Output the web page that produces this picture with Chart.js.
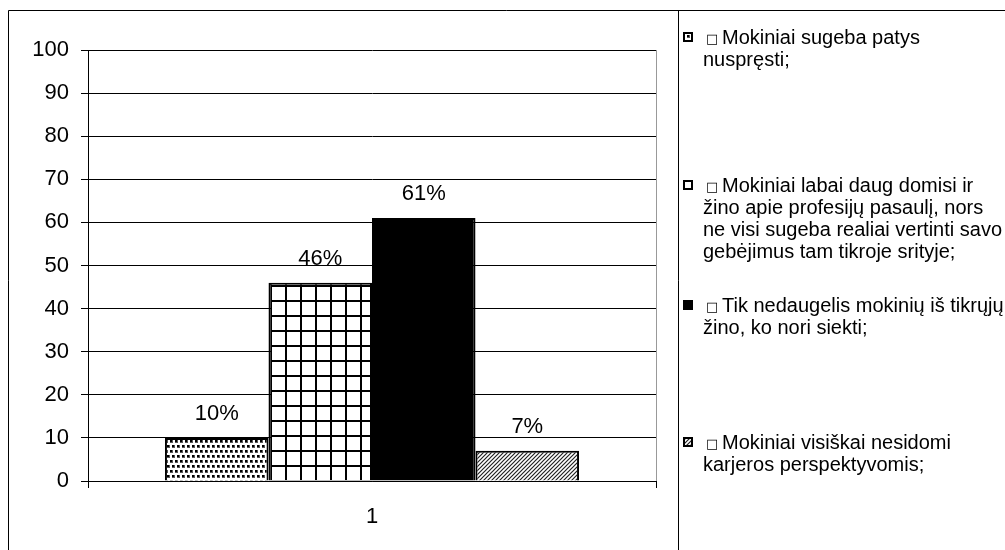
<!DOCTYPE html>
<html>
<head>
<meta charset="utf-8">
<script src="https://cdn.jsdelivr.net/npm/chart.js@4.4.1/dist/chart.umd.min.js"></script>
<style>
html,body{margin:0;padding:0;background:#fff;}
#wrap{position:relative;width:1005px;height:550px;}
</style>
</head>
<body>
<div id="wrap"><canvas id="c" width="1005" height="550"></canvas></div>
<script>
const categories = ['1'];
const legendBullet = '\u25A1';
const seriesLabels = [
  ['Mokiniai sugeba patys', 'nuspręsti;'],
  ['Mokiniai labai daug domisi ir', 'žino apie profesijų pasaulį, nors', 'ne visi sugeba realiai vertinti savo', 'gebėjimus tam tikroje srityje;'],
  ['Tik nedaugelis mokinių iš tikrųjų', 'žino, ko nori siekti;'],
  ['Mokiniai visiškai nesidomi', 'karjeros perspektyvomis;']
];
const seriesValues = [[10], [46], [61], [7]];
const yTicks = [0, 10, 20, 30, 40, 50, 60, 70, 80, 90, 100];

const FONT = '"Liberation Sans", Arial, sans-serif';

function makePattern(kind) {
  const t = document.createElement('canvas');
  const g = t.getContext('2d');
  if (kind === 'dots') {
    t.width = 5; t.height = 10;
    g.fillStyle = '#fff'; g.fillRect(0, 0, 5, 10);
    g.fillStyle = '#555';
    g.fillRect(0, 0, 3, 3);
    g.fillRect(2, 5, 3, 3);
    g.fillStyle = '#000';
    g.fillRect(0, 0, 2, 2);
    g.fillRect(2, 5, 2, 2);
  } else if (kind === 'grid') {
    t.width = 15; t.height = 15;
    g.fillStyle = '#fff'; g.fillRect(0, 0, 15, 15);
    g.fillStyle = '#000';
    g.fillRect(0, 0, 2, 15);
    g.fillRect(0, 0, 15, 2);
  } else if (kind === 'hatch') {
    t.width = 4; t.height = 4;
    g.fillStyle = '#fff'; g.fillRect(0, 0, 4, 4);
    g.strokeStyle = '#222'; g.lineWidth = 1.2;
    g.beginPath();
    g.moveTo(-1, 5); g.lineTo(5, -1);
    g.moveTo(-1, 1); g.lineTo(1, -1);
    g.moveTo(3, 5); g.lineTo(5, 3);
    g.stroke();
  }
  return g.createPattern(t, 'repeat');
}

const ctx = document.getElementById('c').getContext('2d');
const fills = [makePattern('dots'), makePattern('grid'), '#000', makePattern('hatch')];

const datasets = seriesValues.map((vals, i) => ({
  label: seriesLabels[i].join(' '),
  data: vals,
  backgroundColor: fills[i],
  borderColor: '#000',
  borderWidth: 2,
  categoryPercentage: 0.729,
  barPercentage: 1.0
}));

const framePlugin = {
  id: 'frame',
  beforeDraw(chart) {
    const c = chart.ctx;
    c.save();
    c.fillStyle = '#fff';
    c.fillRect(0, 0, chart.width, chart.height);
    c.restore();
  },
  afterDraw(chart) {
    const c = chart.ctx;
    const a = chart.chartArea;
    c.save();
    c.strokeStyle = '#999';
    c.lineWidth = 1;
    c.beginPath();
    c.moveTo(Math.round(a.right) + 0.5, a.top);
    c.lineTo(Math.round(a.right) + 0.5, a.bottom);
    c.stroke();
    c.strokeStyle = '#000';
    c.beginPath();
    c.moveTo(8.5, chart.height);
    c.lineTo(8.5, 10.5);
    c.lineTo(chart.width, 10.5);
    c.moveTo(678.5, 10.5);
    c.lineTo(678.5, chart.height);
    c.stroke();

    // data labels
    c.fillStyle = '#000';
    c.font = '22px ' + FONT;
    c.textAlign = 'center';
    c.textBaseline = 'alphabetic';
    chart.data.datasets.forEach((ds, i) => {
      const meta = chart.getDatasetMeta(i);
      meta.data.forEach((bar, j) => {
        c.fillText(ds.data[j] + '%', bar.x, bar.y - 18);
      });
    });

    // legend
    const baselines = [44, 192, 312, 449];
    c.textAlign = 'left';
    seriesLabels.forEach((lines, i) => {
      const b = baselines[i];
      const mx = 683, my = b - 12;
      c.fillStyle = i === 1 ? '#fff' : fills[i];
      c.fillRect(mx, my, 10, 10);
      c.strokeStyle = '#000';
      c.lineWidth = 2;
      c.strokeRect(mx + 1, my + 1, 8, 8);
      c.fillStyle = '#000';
      c.font = '13px "DejaVu Sans", sans-serif';
      c.fillText(legendBullet, 706, b - 1);
      c.font = '20px ' + FONT;
      lines.forEach((ln, k) => {
        c.fillText(ln, k === 0 ? 722 : 703, b + k * 22);
      });
    });
    c.restore();
  }
};

new Chart(ctx, {
  type: 'bar',
  data: { labels: categories, datasets },
  options: {
    responsive: false,
    animation: false,
    layout: { padding: { left: 0, top: 50, right: 349, bottom: 0 } },
    plugins: { legend: { display: false }, tooltip: { enabled: false } },
    scales: {
      x: {
        grid: { display: true, drawOnChartArea: false, drawTicks: true, tickLength: 7, color: '#000', offset: true },
        border: { display: true, color: '#000', width: 1 },
        ticks: { color: '#000', font: { family: FONT, size: 22 }, padding: 16 },
        afterFit(s) { s.height = 69; }
      },
      y: {
        min: 0, max: 100,
        afterBuildTicks(s) { s.ticks = yTicks.map(v => ({ value: v })); },
        grid: { color: '#000', lineWidth: 1, tickLength: 7, drawTicks: true },
        border: { display: true, color: '#000', width: 1 },
        ticks: { color: '#000', font: { family: FONT, size: 22 }, padding: 12 },
        afterFit(s) { s.width = 88; }
      }
    }
  },
  plugins: [framePlugin]
});
</script>
</body>
</html>
